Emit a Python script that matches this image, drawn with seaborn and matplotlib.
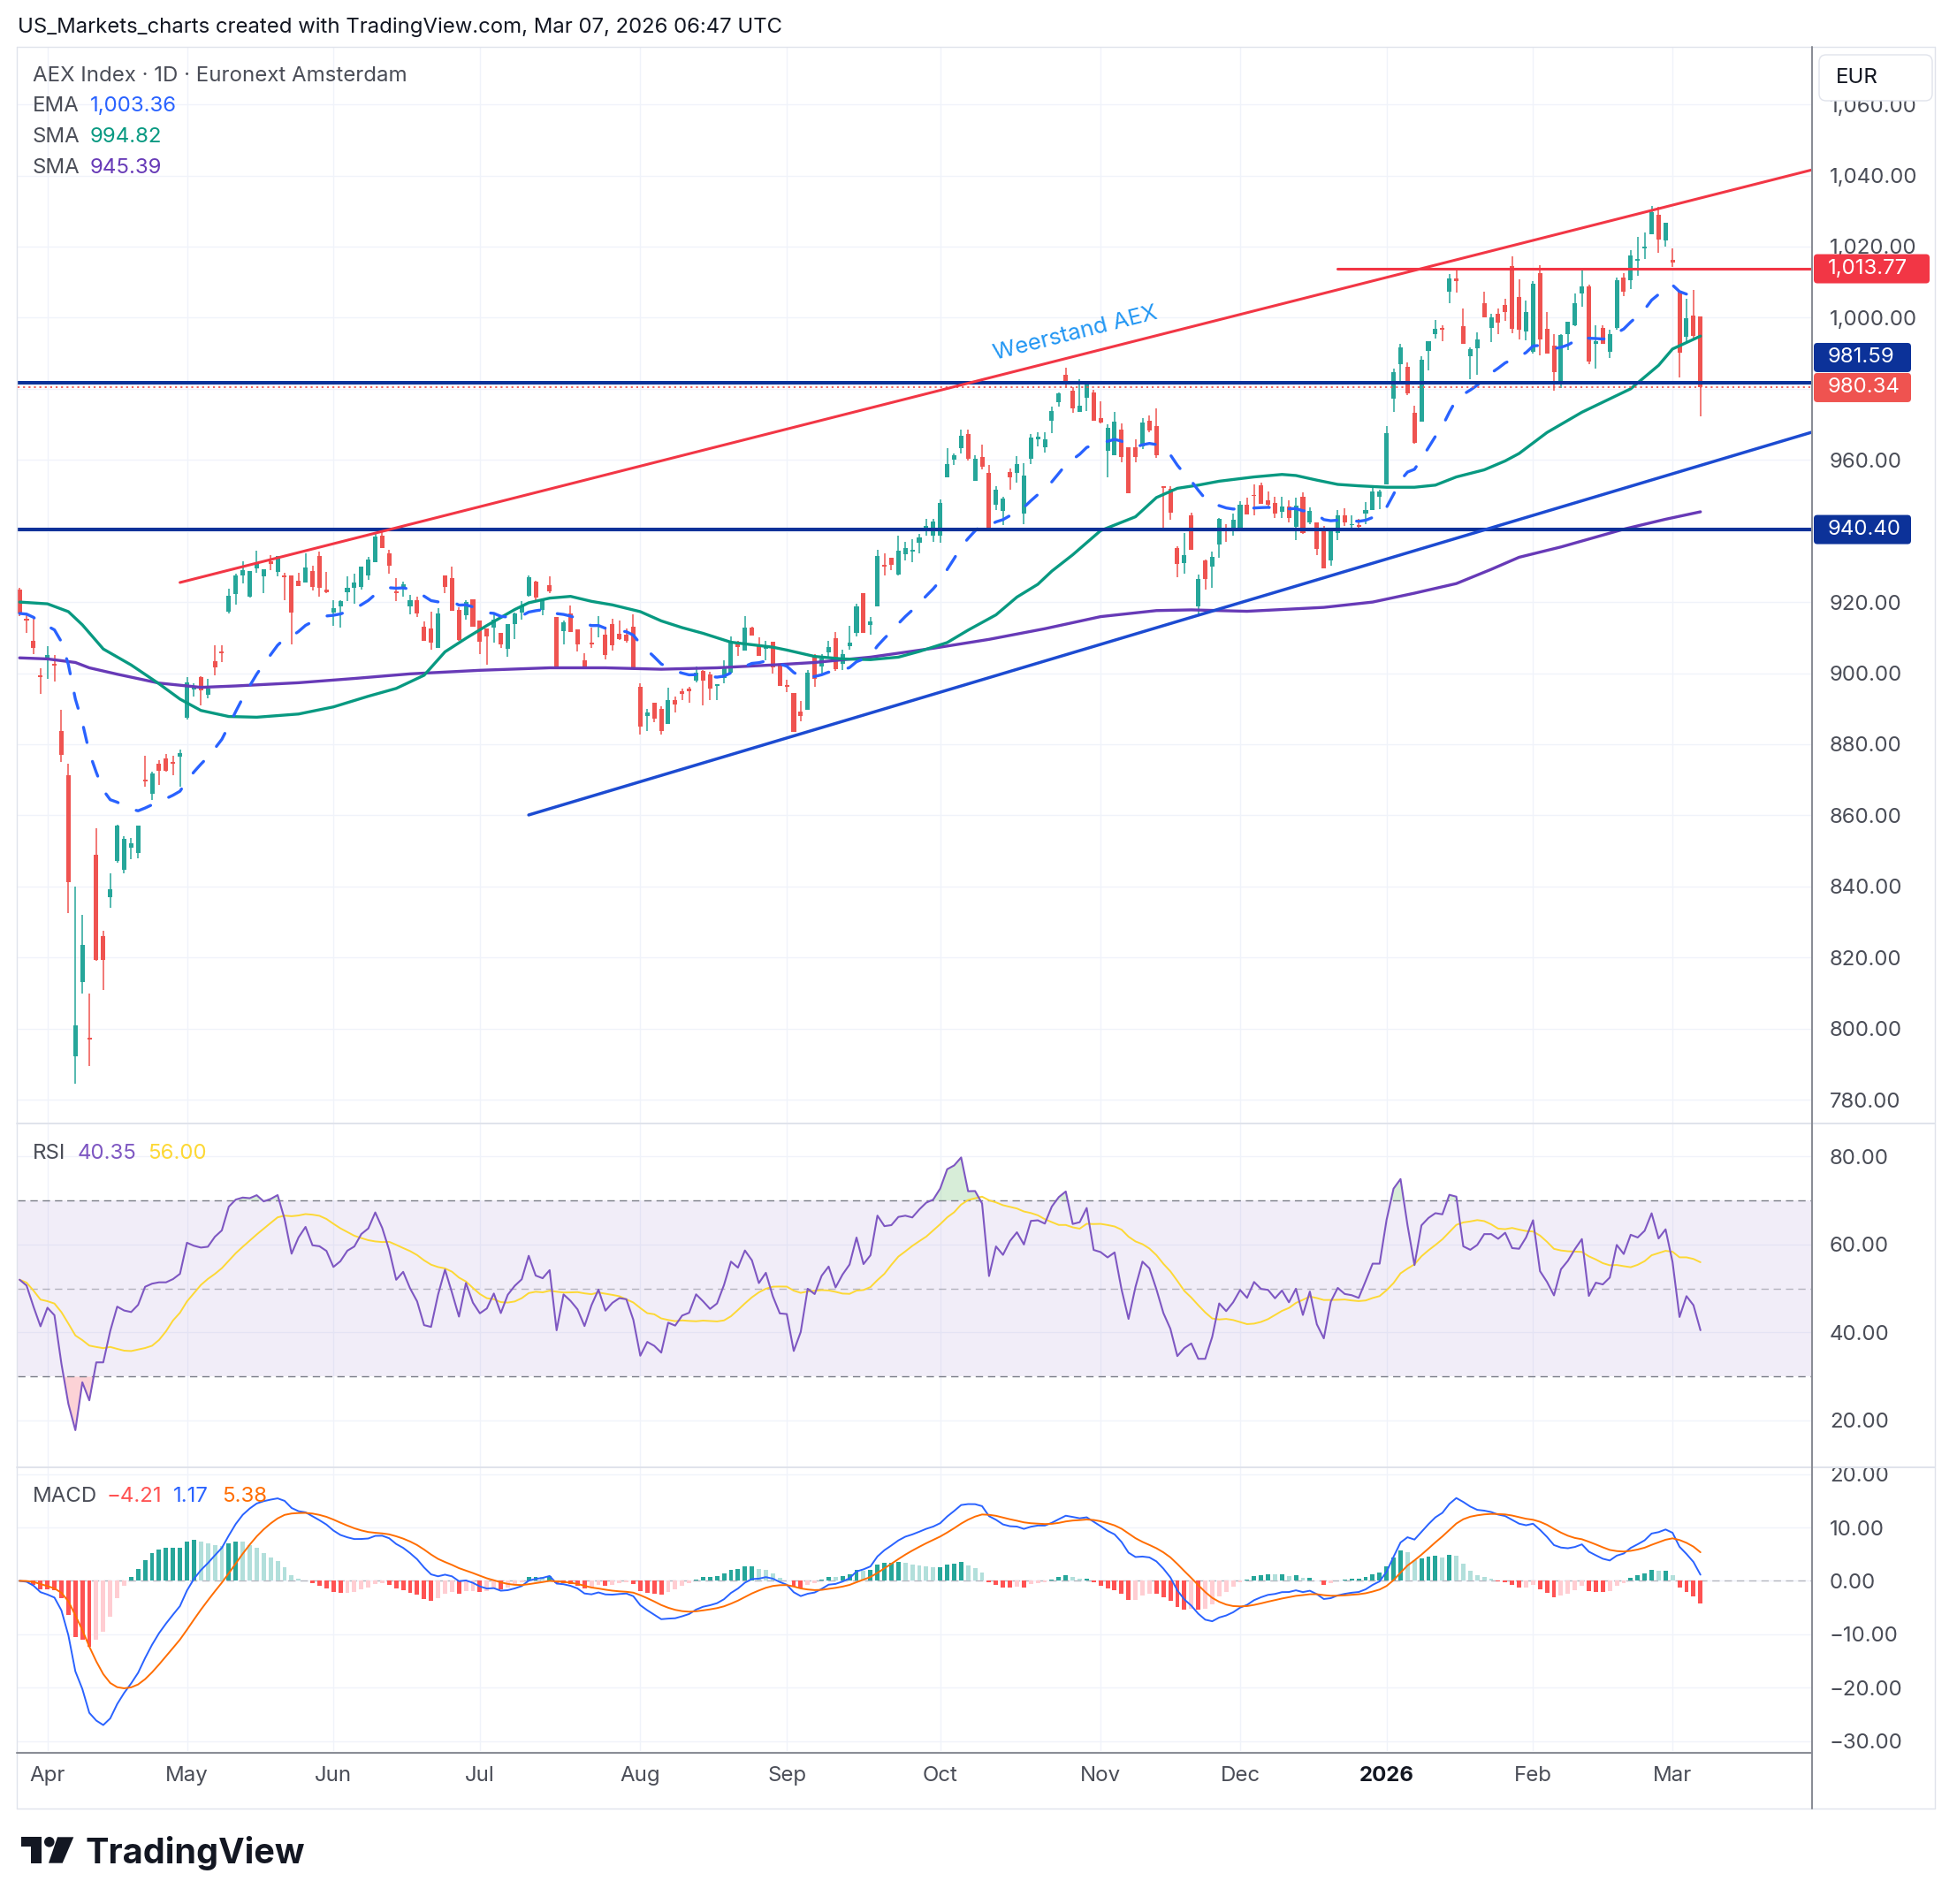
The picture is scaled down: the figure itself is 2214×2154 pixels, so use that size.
import numpy as np
import pandas as pd
import matplotlib
matplotlib.use("Agg")
import matplotlib.pyplot as plt
import seaborn as sns
from matplotlib.patches import FancyBboxPatch, Polygon, Circle
from matplotlib.lines import Line2D
from matplotlib.transforms import IdentityTransform

# daily candles, AEX, 26 Mar 2025 .. 6 Mar 2026 (trading-day index 0..241)
opens = [
    923.5, 915.3, 909.2, 899.5, 904.0, 902.5, 883.8, 871.4, 792.2, 813.2,
    797.5, 848.8, 826.0, 837.0, 847.1, 844.6, 851.0, 849.4, 870.0, 866.0,
    874.4, 876.0, 875.0, 876.5, 887.4, 895.5, 899.0, 893.9, 903.3, 906.0,
    917.2, 922.2, 927.6, 921.6, 929.5, 927.2, 931.5, 928.6, 927.5, 927.4,
    926.0, 925.6, 928.8, 932.9, 923.5, 917.1, 918.8, 922.7, 924.1, 924.3,
    927.4, 931.3, 938.7, 933.6, 923.0, 923.9, 918.8, 920.6, 913.0, 912.6,
    907.1, 927.4, 926.8, 917.9, 916.3, 920.8, 914.7, 912.6, 912.8, 911.4,
    906.8, 913.8, 917.1, 921.8, 925.8, 917.8, 924.8, 915.9, 911.9, 916.7,
    912.2, 903.5, 908.5, 913.0, 910.7, 913.7, 911.0, 910.7, 913.0, 896.1,
    888.0, 891.6, 890.0, 885.6, 892.4, 894.9, 895.6, 898.0, 900.6, 899.7,
    896.4, 898.6, 900.2, 908.7, 906.3, 912.8, 908.0, 906.8, 908.8, 902.2,
    896.6, 894.3, 889.3, 889.6, 904.8, 901.8, 905.9, 909.8, 902.6, 907.5,
    911.3, 922.5, 913.6, 918.9, 930.5, 932.4, 927.8, 933.5, 934.3, 936.8,
    940.1, 938.8, 938.8, 955.0, 960.0, 963.3, 967.3, 954.1, 960.8, 956.4,
    947.3, 945.6, 956.6, 956.4, 945.0, 960.3, 965.8, 963.5, 970.9, 976.3,
    984.0, 979.4, 973.6, 977.4, 979.0, 971.8, 962.5, 961.4, 968.4, 963.6,
    963.5, 963.9, 971.1, 969.4, 952.5, 951.9, 935.3, 931.0, 944.3, 918.9,
    931.8, 929.9, 936.3, 940.8, 940.7, 940.5, 947.3, 950.2, 952.9, 948.7,
    947.9, 945.3, 946.9, 941.1, 949.6, 942.4, 942.4, 940.3, 931.6, 939.5,
    944.3, 941.6, 941.6, 944.8, 945.9, 949.5, 953.1, 977.3, 987.0, 986.2,
    973.2, 970.7, 990.7, 995.5, 997.0, 1007.4, 1011.0, 997.5, 989.2, 991.3,
    1004.2, 997.2, 1001.2, 1003.5, 1014.6, 1005.8, 996.1, 990.3, 1012.5, 996.8,
    992.2, 981.7, 995.5, 997.9, 1006.8, 1008.7, 992.6, 997.1, 990.5, 997.1,
    1011.4, 1010.6, 1016.0, 1019.6, 1023.5, 1028.9, 1021.7, 1016.2, 1007.3, 994.7,
    1000.7, 1000.4,
]
highs = [
    924.0, 916.8, 915.4, 901.3, 907.5, 905.0, 889.6, 874.4, 840.0, 832.0,
    809.8, 856.4, 827.6, 843.8, 857.4, 854.2, 853.7, 857.0, 876.7, 872.2,
    875.4, 877.3, 876.7, 878.5, 898.9, 897.2, 899.2, 898.4, 907.8, 907.8,
    923.7, 927.9, 931.5, 928.8, 934.4, 929.2, 933.2, 933.0, 928.2, 927.4,
    928.2, 933.7, 930.3, 934.2, 928.5, 920.6, 920.6, 927.2, 928.0, 929.9,
    932.8, 939.5, 939.8, 934.6, 926.8, 925.7, 922.0, 921.6, 914.6, 917.3,
    918.2, 927.6, 929.9, 918.6, 920.4, 920.8, 914.7, 912.6, 916.6, 911.4,
    913.8, 917.0, 920.2, 927.5, 926.0, 920.4, 927.2, 915.9, 914.8, 919.0,
    912.2, 905.6, 912.8, 916.0, 913.0, 915.3, 914.7, 912.6, 916.5, 897.2,
    890.0, 891.6, 890.8, 895.9, 893.4, 895.7, 896.1, 901.9, 900.8, 900.3,
    897.0, 903.6, 910.3, 909.0, 916.1, 913.1, 910.2, 909.0, 908.8, 902.2,
    898.2, 894.3, 892.1, 900.9, 905.4, 905.4, 909.2, 911.5, 906.7, 913.3,
    919.5, 922.5, 915.8, 934.7, 933.6, 932.4, 938.8, 936.9, 937.8, 939.1,
    943.4, 943.4, 948.9, 963.4, 961.8, 968.6, 968.6, 961.4, 964.4, 958.6,
    952.5, 949.5, 957.6, 961.0, 959.1, 967.3, 967.8, 967.8, 974.9, 979.0,
    986.0, 980.5, 982.7, 981.9, 979.6, 976.6, 970.1, 973.6, 970.3, 963.6,
    965.8, 971.7, 972.5, 974.4, 952.5, 952.7, 935.7, 939.5, 945.1, 927.8,
    932.0, 934.3, 943.7, 942.0, 944.9, 948.3, 949.4, 953.0, 953.7, 951.2,
    949.6, 949.6, 948.7, 949.3, 950.9, 946.7, 942.4, 941.5, 940.3, 945.9,
    946.5, 944.3, 943.3, 948.1, 952.8, 951.7, 969.6, 985.6, 992.6, 987.3,
    975.2, 989.1, 993.4, 999.4, 997.9, 1012.4, 1013.5, 1002.7, 991.6, 995.9,
    1007.3, 1001.1, 1002.6, 1005.3, 1017.2, 1010.7, 1004.8, 1010.4, 1014.7, 1001.7,
    995.5, 995.3, 998.8, 1006.7, 1013.7, 1009.3, 997.8, 997.8, 996.7, 1011.4,
    1012.5, 1019.0, 1022.7, 1024.0, 1031.4, 1031.2, 1026.8, 1019.4, 1007.3, 1005.4,
    1007.7, 1000.4,
]
lows = [
    916.0, 911.4, 905.3, 894.2, 898.5, 897.7, 875.0, 832.4, 784.5, 809.8,
    789.4, 819.0, 810.8, 834.0, 846.6, 843.6, 847.6, 847.8, 868.0, 864.3,
    868.6, 872.4, 871.3, 868.0, 886.9, 893.5, 891.0, 892.9, 899.4, 903.0,
    916.8, 919.4, 925.2, 921.2, 928.2, 922.5, 929.0, 927.2, 920.6, 908.2,
    924.5, 925.6, 923.3, 921.6, 922.5, 913.2, 912.8, 920.2, 919.6, 923.6,
    926.3, 931.1, 935.1, 928.1, 920.2, 921.5, 916.5, 915.7, 909.1, 906.7,
    907.1, 922.5, 917.5, 909.1, 915.1, 913.0, 905.4, 902.3, 908.5, 907.1,
    904.6, 909.7, 915.1, 921.6, 920.0, 916.3, 922.4, 901.9, 908.2, 911.6,
    906.0, 901.1, 907.2, 910.1, 903.8, 906.3, 909.3, 908.7, 901.6, 882.8,
    883.8, 886.3, 882.6, 885.6, 889.0, 892.4, 891.6, 897.5, 891.0, 892.4,
    892.3, 897.2, 899.8, 904.8, 906.3, 910.5, 904.8, 903.5, 900.0, 896.4,
    894.7, 883.4, 886.4, 889.6, 896.2, 899.6, 904.2, 900.7, 900.9, 906.7,
    910.4, 911.3, 910.9, 918.9, 927.4, 929.0, 927.4, 931.6, 931.2, 933.6,
    938.7, 937.0, 936.8, 955.0, 958.6, 961.9, 959.9, 954.1, 957.3, 940.1,
    946.0, 941.7, 951.5, 953.5, 941.9, 958.8, 963.9, 962.0, 967.4, 975.1,
    980.5, 973.3, 973.6, 973.8, 970.9, 970.3, 955.2, 961.2, 959.4, 950.6,
    959.3, 963.1, 967.8, 960.6, 940.0, 943.2, 927.1, 928.0, 934.7, 916.6,
    923.5, 923.9, 932.4, 937.0, 938.6, 940.5, 944.6, 944.5, 947.6, 946.9,
    943.6, 943.6, 942.4, 937.5, 939.1, 942.0, 933.3, 929.4, 930.2, 937.4,
    941.5, 940.0, 940.8, 941.9, 945.9, 946.2, 953.1, 973.5, 981.8, 978.3,
    964.5, 970.7, 985.1, 994.1, 993.4, 1004.0, 1007.1, 992.6, 982.6, 983.9,
    1000.0, 993.1, 995.5, 999.2, 995.7, 993.9, 993.6, 989.8, 989.3, 989.9,
    979.4, 980.2, 990.8, 997.5, 1003.1, 986.8, 985.8, 992.7, 988.7, 996.7,
    1006.0, 1008.0, 1011.8, 1016.5, 1023.5, 1018.2, 1019.9, 1014.3, 983.3, 993.4,
    994.0, 972.2,
]
closes = [
    916.8, 914.8, 907.1, 899.0, 905.0, 902.0, 877.0, 841.2, 801.0, 823.6,
    797.0, 819.2, 819.2, 839.2, 857.0, 853.5, 852.2, 857.0, 869.5, 871.7,
    872.6, 872.6, 874.5, 877.5, 897.4, 896.0, 895.2, 895.7, 901.6, 905.5,
    921.8, 927.4, 929.0, 928.8, 930.9, 929.2, 930.7, 933.0, 927.0, 917.1,
    924.5, 929.7, 924.3, 924.0, 922.7, 918.2, 920.2, 923.9, 925.4, 929.9,
    932.0, 938.4, 935.1, 930.1, 922.5, 924.9, 920.4, 916.7, 909.1, 908.5,
    916.7, 924.3, 917.5, 909.3, 920.0, 913.0, 908.9, 910.4, 915.0, 908.1,
    913.8, 916.7, 918.8, 927.0, 921.2, 920.4, 923.0, 901.9, 914.2, 911.6,
    908.2, 901.1, 908.0, 913.6, 905.2, 907.9, 909.5, 909.1, 901.6, 884.9,
    889.0, 887.1, 883.8, 892.4, 891.2, 894.1, 894.9, 900.2, 898.0, 895.6,
    897.0, 901.9, 908.9, 907.4, 912.8, 910.5, 904.8, 907.7, 901.5, 896.4,
    896.2, 883.4, 887.9, 900.1, 898.4, 904.2, 907.3, 901.2, 905.3, 908.6,
    918.7, 911.3, 914.6, 933.0, 930.0, 930.5, 934.5, 935.1, 934.7, 938.2,
    941.3, 942.7, 947.9, 958.9, 961.4, 966.9, 960.3, 960.4, 958.0, 940.1,
    951.7, 949.2, 955.0, 958.9, 955.6, 966.3, 966.6, 965.8, 973.8, 978.8,
    981.9, 974.4, 975.2, 981.7, 971.1, 970.5, 969.1, 970.8, 960.7, 950.6,
    960.8, 970.5, 968.3, 961.2, 952.0, 945.1, 930.8, 933.3, 934.7, 926.6,
    926.6, 932.7, 943.4, 940.3, 943.2, 947.3, 944.6, 949.8, 947.6, 947.3,
    944.8, 946.9, 943.6, 947.1, 939.5, 945.7, 934.9, 929.4, 939.9, 944.4,
    942.4, 942.0, 941.2, 945.9, 951.2, 951.2, 967.4, 984.8, 991.6, 978.7,
    964.7, 988.1, 993.4, 996.9, 996.5, 1011.0, 1010.4, 992.6, 991.2, 993.9,
    1000.0, 1000.0, 998.5, 1001.5, 996.9, 996.7, 1001.5, 1009.5, 993.8, 989.9,
    984.8, 995.1, 998.8, 1004.0, 1008.7, 987.7, 993.4, 992.7, 995.5, 1010.6,
    1007.4, 1017.4, 1016.5, 1020.0, 1029.8, 1021.9, 1026.8, 1015.6, 990.1, 999.8,
    995.0, 980.34,
]

month_pos = [4, 24, 45, 66, 89, 110, 132, 155, 175, 196, 217, 237]
month_labels = ["Apr", "May", "Jun", "Jul", "Aug", "Sep", "Oct", "Nov", "Dec", "2026", "Feb", "Mar"]

# SMA lines (they need history before the window)
sma50_x = [0, 4, 7, 9, 12, 16, 20, 23, 26, 30, 34, 40, 45, 50, 54, 58, 61, 64, 67, 71,
           73, 76, 79, 82, 85, 89, 92, 95, 98, 102, 105, 108, 110, 114, 118, 122, 126, 129, 133, 136,
           140, 143, 146, 148, 151, 155, 160, 163, 166, 169, 172, 177, 181, 183, 186, 189, 192, 196, 200, 203,
           206, 210, 213, 215, 219, 224, 231, 235, 237, 241]
sma50_y = [920.0, 919.5, 917.3, 913.6, 906.8, 902.3, 897.0, 892.7, 889.5, 887.8, 887.6, 888.5, 890.5, 893.5, 895.7, 899.4, 906.0, 909.8, 913.4, 917.9,
           919.8, 921.1, 921.6, 920.2, 919.2, 917.3, 914.7, 912.8, 911.2, 908.7, 908.0, 907.3, 906.5, 904.7, 904.0, 903.8, 904.5, 906.1, 908.6, 912.1,
           916.4, 921.4, 925.0, 928.7, 933.3, 940.1, 944.0, 949.4, 952.0, 952.9, 954.0, 955.2, 955.9, 955.6, 954.3, 953.1, 952.7, 952.3, 952.3, 952.9,
           955.2, 957.2, 959.7, 961.8, 967.7, 973.4, 980.0, 986.6, 991.2, 994.82]
sma200_x = [0, 4, 8, 10, 14, 20, 26, 31, 40, 48, 56, 66, 76, 84, 92, 100, 108, 114, 122, 131,
            139, 147, 155, 163, 168, 176, 187, 194, 200, 206, 211, 215, 221, 230, 236, 241]
sma200_y = [904.3, 904.0, 903.0, 901.5, 899.7, 897.2, 896.0, 896.4, 897.3, 898.5, 899.8, 900.8, 901.5, 901.5, 901.1, 901.5, 902.3, 903.0, 904.5, 907.0,
            909.5, 912.5, 915.9, 917.6, 917.8, 917.4, 918.5, 920.0, 922.5, 925.2, 929.2, 932.6, 935.5, 940.5, 943.3, 945.39]

# drawings
upper_trend_x, upper_trend_y = [23, 257], [925.5, 1041.6]
lower_trend_x, lower_trend_y = [73, 257], [860.1, 967.8]
resist_x, resist_y = [189, 257], [1013.77, 1013.77]
blue_levels = [981.59, 940.40]
last_price = 980.34

# RSI averages at the left edge (RSI about 52 there)
rsi_seed_gain, rsi_seed_loss = 3.3, 3.05

UP, DOWN = "#26A69A", "#EF5350"
GRID = "#F0F3FA"
TXT = "#4A4D57"
FS = 17.3

sns.set_theme(style="white")
plt.rcParams["font.family"] = ["Inter", "DejaVu Sans"]

W, H, DPI = 2214, 2154, 100
fig = plt.figure(figsize=(W / DPI, H / DPI), dpi=DPI)
fig.patch.set_facecolor("white")


def pane(top, bottom, left=20, right=2050):
    return fig.add_axes([left / W, 1 - bottom / H, (right - left) / W, (bottom - top) / H])


def ftext(x, y, s, **kw):
    return fig.text(x / W, 1 - y / H, s, **kw)


def fline(x0, y0, x1, y1, **kw):
    fig.add_artist(Line2D([x0 / W, x1 / W], [1 - y0 / H, 1 - y1 / H], transform=fig.transFigure, **kw))


ax_p = pane(53, 1271)
ax_r = pane(1271, 1660)
ax_m = pane(1660, 1981)

df = pd.DataFrame({"i": np.arange(len(closes)), "o": opens, "h": highs, "l": lows, "c": closes})
ema20 = df["c"].ewm(span=20, adjust=False).mean()

chg = df["c"].diff().fillna(0).to_numpy()
ag, al = rsi_seed_gain, rsi_seed_loss
rsi = []
for d in chg:
    ag = (ag * 13 + max(d, 0)) / 14
    al = (al * 13 + max(-d, 0)) / 14
    rsi.append(100 - 100 / (1 + ag / al))
rsi = pd.Series(rsi)
rsi_ma = rsi.rolling(14, min_periods=1).mean()

macd = df["c"].ewm(span=12, adjust=False).mean() - df["c"].ewm(span=26, adjust=False).mean()
signal = macd.ewm(span=9, adjust=False).mean()
hist = macd - signal

for ax in (ax_p, ax_r, ax_m):
    ax.set_facecolor("white")
    for s in ax.spines.values():
        s.set_visible(False)
    ax.set_xlim(-0.27, 257)
    ax.set_xticks(month_pos)
    ax.grid(True, color=GRID, lw=1.0)
    ax.set_axisbelow(True)
    ax.yaxis.tick_right()
    ax.tick_params(axis="y", length=0, pad=14.4, labelsize=FS, labelcolor=TXT)
    ax.tick_params(axis="x", length=0, labelbottom=False)

# ---- price pane
ax_p.set_ylim(773.3, 1076.2)
pticks = list(range(780, 1061, 20))
ax_p.set_yticks(pticks)
ax_p.set_yticklabels([f"{v:,.2f}" for v in pticks])

cols = np.where(df["c"] >= df["o"], UP, DOWN)
ax_p.vlines(df["i"], df["l"], df["h"], colors=cols, lw=1.1, zorder=2)
body = (df["c"] - df["o"]).abs().clip(lower=0.35)
ax_p.bar(df["i"], body, bottom=np.minimum(df["o"], df["c"]), width=0.64, color=cols, lw=0, zorder=2.1)

sns.lineplot(x=sma200_x, y=sma200_y, ax=ax_p, color="#673AB7", lw=2.4, sort=False, estimator=None, zorder=3)
sns.lineplot(x=sma50_x, y=sma50_y, ax=ax_p, color="#089981", lw=2.4, sort=False, estimator=None, zorder=3)
sns.lineplot(x=df["i"], y=ema20, ax=ax_p, color="#2962FF", lw=2.4, linestyle=(0, (5.3, 6.7)),
             dash_capstyle="round", sort=False, estimator=None, zorder=3)

ax_p.axhline(last_price, color=DOWN, lw=1.3, ls=(0, (1.2, 2.2)), zorder=3.5)
for lv in blue_levels:
    ax_p.axhline(lv, color="#0C3299", lw=2.9, zorder=4)
ax_p.plot(upper_trend_x, upper_trend_y, color="#F23645", lw=2.2, zorder=4)
ax_p.plot(resist_x, resist_y, color="#F23645", lw=2.2, zorder=4)
ax_p.plot(lower_trend_x, lower_trend_y, color="#1C4BD1", lw=2.5, zorder=4)
ax_p.text(151.4, 995.5, "Weerstand AEX", rotation=14.2, rotation_mode="anchor", ha="center", va="center",
          color="#2196F3", fontsize=18.5, zorder=5)

# ---- RSI pane
ax_r.set_ylim(9.23, 87.55)
ax_r.set_yticks([20, 40, 60, 80])
ax_r.set_yticklabels(["20.00", "40.00", "60.00", "80.00"])
ax_r.axhspan(30, 70, color="#7E57C2", alpha=0.1, lw=0, zorder=1)
for lv, a in ((70, 1.0), (50, 0.5), (30, 1.0)):
    ax_r.axhline(lv, color="#787B86", alpha=a, lw=1.0, ls=(0, (6, 4)), zorder=1.5)
ax_r.fill_between(df["i"], rsi, 70, where=rsi > 70, interpolate=True, color="#4CAF50", alpha=0.22, lw=0)
ax_r.fill_between(df["i"], rsi, 30, where=rsi < 30, interpolate=True, color="#F23645", alpha=0.22, lw=0)
sns.lineplot(x=df["i"], y=rsi_ma, ax=ax_r, color="#FDD835", lw=1.4, sort=False, estimator=None, zorder=3)
sns.lineplot(x=df["i"], y=rsi, ax=ax_r, color="#7E57C2", lw=1.5, sort=False, estimator=None, zorder=3.2)

# ---- MACD pane
ax_m.set_ylim(-31.87, 21.26)
mticks = [-30, -20, -10, 0, 10, 20]
ax_m.set_yticks(mticks)
ax_m.set_yticklabels([f"{v:.2f}".replace("-", "\u2212") for v in mticks])
prev = hist.shift(1).fillna(hist.iloc[0])
hcols = np.where(hist >= 0, np.where(hist >= prev, "#26A69A", "#B2DFDB"),
                 np.where(hist < prev, "#FF5252", "#FFCDD2"))
ax_m.bar(df["i"], hist, width=0.62, color=hcols, lw=0, zorder=2)
ax_m.axhline(0, color="#787B86", alpha=0.5, lw=1.0, ls=(0, (6, 4)), zorder=1.5)
sns.lineplot(x=df["i"], y=macd, ax=ax_m, color="#2962FF", lw=1.4, sort=False, estimator=None, zorder=3)
sns.lineplot(x=df["i"], y=signal, ax=ax_m, color="#FF6D00", lw=1.4, sort=False, estimator=None, zorder=3)
ax_m.tick_params(axis="x", labelbottom=True, pad=12.5, labelsize=FS, labelcolor=TXT)
ax_m.set_xticklabels(month_labels)
for t in ax_m.get_xticklabels():
    if t.get_text() == "2026":
        t.set_fontweight("bold")
        t.set_color("#131722")

for ax in (ax_p, ax_r, ax_m):
    ax.set_xlabel("")
    ax.set_ylabel("")

# ---- frame
fline(19, 53, 2189, 53, color="#E0E3EB", lw=1.0)
fline(19, 2046, 2189, 2046, color="#E0E3EB", lw=1.0)
fline(19, 53, 19, 2046, color="#E0E3EB", lw=1.0)
fline(2189, 53, 2189, 2046, color="#E0E3EB", lw=1.0)
fline(19, 1271, 2189, 1271, color="#E0E3EB", lw=1.4)
fline(19, 1660, 2189, 1660, color="#E0E3EB", lw=1.4)
fline(2050, 53, 2050, 2046, color="#8A8D96", lw=1.5)
fline(19, 1983, 2050, 1983, color="#8A8D96", lw=1.5)

# ---- price tags on the right scale
box_h = 33


def tag(ypix_top, text, color, right):
    y = H - ypix_top
    fig.add_artist(FancyBboxPatch((2052, y - box_h / 2), right - 2052, box_h,
                                  boxstyle="round,pad=0,rounding_size=4", fc=color, ec="none",
                                  transform=IdentityTransform(), zorder=10))
    fig.text(2068 / W, y / H, text, color="white", fontsize=FS, va="center", ha="left", zorder=11)


def ypix(ax, val):
    return H - ax.transData.transform((0, val))[1]


y_last = ypix(ax_p, last_price)
y_res = ypix(ax_p, 1013.77)
y_b1 = min(ypix(ax_p, blue_levels[0]), y_last - box_h - 1)
y_b2 = ypix(ax_p, blue_levels[1])
tag(y_res, "1,013.77", "#F23645", 2183)
tag(y_b1, "981.59", "#0C3299", 2162)
tag(y_last, "980.34", "#EF5350", 2162)
tag(y_b2, "940.40", "#0C3299", 2162)

fig.add_artist(FancyBboxPatch((2058, H - 114), 128, 52, boxstyle="round,pad=0,rounding_size=8",
                              fc="white", ec="#E0E3EB", lw=1.0, transform=IdentityTransform(), zorder=10))
ftext(2077, 88, "EUR", color="#131722", fontsize=FS, va="center", zorder=11)

# ---- texts
ftext(20, 31, "US_Markets_charts created with TradingView.com, Mar 07, 2026 06:47 UTC",
      color="#131722", fontsize=17.2, va="center")
ftext(37, 86, "AEX Index \u00b7 1D \u00b7 Euronext Amsterdam", color=TXT, fontsize=FS, va="center")
for yy, name, val, c in ((120, "EMA", "1,003.36", "#2962FF"), (155, "SMA", "994.82", "#089981"),
                         (190, "SMA", "945.39", "#673AB7")):
    ftext(37, yy, name, color=TXT, fontsize=FS, va="center")
    ftext(102, yy, val, color=c, fontsize=FS, va="center")
ftext(37, 1305, "RSI", color=TXT, fontsize=FS, va="center")
ftext(88, 1305, "40.35", color="#7E57C2", fontsize=FS, va="center")
ftext(167, 1305, "56.00", color="#FDD835", fontsize=FS, va="center")
ftext(37, 1693, "MACD", color=TXT, fontsize=FS, va="center")
ftext(121, 1693, "\u22124.21", color="#FF5252", fontsize=FS, va="center")
ftext(196, 1693, "1.17", color="#2962FF", fontsize=FS, va="center")
ftext(251, 1693, "5.38", color="#FF6D00", fontsize=FS, va="center")

# ---- TradingView logo
ident = IdentityTransform()
fig.add_artist(Polygon([(24, H - 2078.3), (46.7, H - 2078.3), (46.7, H - 2107.7), (35, H - 2107.7),
                        (35, H - 2089.3), (24, H - 2089.3)], closed=True, fc="#131722", ec="none",
                       transform=ident))
fig.add_artist(Circle((55.8, H - 2083.8), 5.8, fc="#131722", ec="none", transform=ident))
fig.add_artist(Polygon([(65, H - 2078.3), (83.3, H - 2078.3), (70.7, H - 2107.7), (55, H - 2107.7)],
                       closed=True, fc="#131722", ec="none", transform=ident))
ftext(97, 2108, "TradingView", color="#131722", fontsize=28.5, fontweight="bold", va="baseline")

fig.savefig("out.png", dpi=DPI, facecolor="white")
